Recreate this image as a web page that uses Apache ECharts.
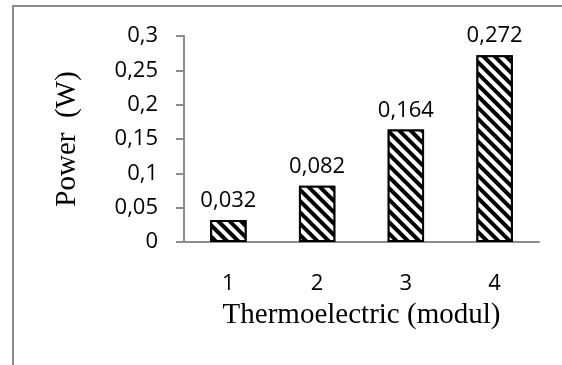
<!DOCTYPE html>
<html>
<head>
<meta charset="utf-8">
<script src="https://cdn.jsdelivr.net/npm/echarts@6/dist/echarts.min.js"></script>
<style>
  html, body { margin: 0; padding: 0; background: #fff; }
  #chart { width: 562px; height: 365px; }
</style>
</head>
<body>
<div id="chart"></div>
<script>
// Data
const categories = ['1', '2', '3', '4'];
const powerValues = [0.032, 0.082, 0.164, 0.272];
const yTicks = [0, 0.05, 0.1, 0.15, 0.2, 0.25, 0.3];

const chart = echarts.init(document.getElementById('chart'));

const commaDecimal = v => String(+v.toFixed(3)).replace('.', ',');

const option = {
    animation: false,
    graphic: [
        {
            // outer frame (only top and left edges are inside the picture)
            type: 'rect',
            shape: { x: 13, y: 6, width: 700, height: 500 },
            style: { fill: 'none', stroke: '#8c8c8c', lineWidth: 2 },
            silent: true
        }
    ],
    grid: {
        left: 184,
        right: 23,
        top: 36,
        bottom: 123
    },
    xAxis: {
        type: 'category',
        data: categories,
        name: 'Thermoelectric (modul)',
        nameLocation: 'middle',
        nameGap: 59,
        nameTextStyle: {
            fontFamily: 'Liberation Serif',
            fontSize: 29,
            color: '#000'
        },
        axisLine: { lineStyle: { color: '#8c8c8c', width: 2 } },
        axisTick: { show: false },
        axisLabel: {
            fontFamily: 'Open Sans',
            fontSize: 22,
            color: '#000',
            margin: 31
        }
    },
    yAxis: {
        type: 'value',
        min: yTicks[0],
        max: yTicks[yTicks.length - 1],
        interval: 0.05,
        name: 'Power  (W)',
        nameLocation: 'middle',
        nameGap: 102,
        nameRotate: 90,
        nameTextStyle: {
            fontFamily: 'Liberation Serif',
            fontSize: 29,
            color: '#000'
        },
        axisLine: { show: true, lineStyle: { color: '#8c8c8c', width: 2 } },
        axisTick: { show: true, length: 8, lineStyle: { color: '#8c8c8c', width: 2 } },
        splitLine: { show: false },
        axisLabel: {
            fontFamily: 'Open Sans',
            fontSize: 22,
            color: '#000',
            margin: 26,
            formatter: v => commaDecimal(v)
        }
    },
    series: [
        {
            name: 'Power',
            type: 'bar',
            data: powerValues,
            barWidth: '41%',
            itemStyle: {
                color: '#fff',
                borderColor: '#000',
                borderWidth: 2,
                decal: {
                    symbol: 'rect',
                    symbolSize: 1,
                    color: '#000',
                    backgroundColor: '#fff',
                    dashArrayX: [1, 0],
                    dashArrayY: [4, 4],
                    rotation: Math.PI / 4
                }
            },
            label: {
                show: true,
                position: 'top',
                distance: 8,
                fontFamily: 'Open Sans',
                fontSize: 22,
                color: '#000',
                formatter: p => commaDecimal(p.value)
            }
        }
    ]
};

chart.setOption(option);
</script>
</body>
</html>
